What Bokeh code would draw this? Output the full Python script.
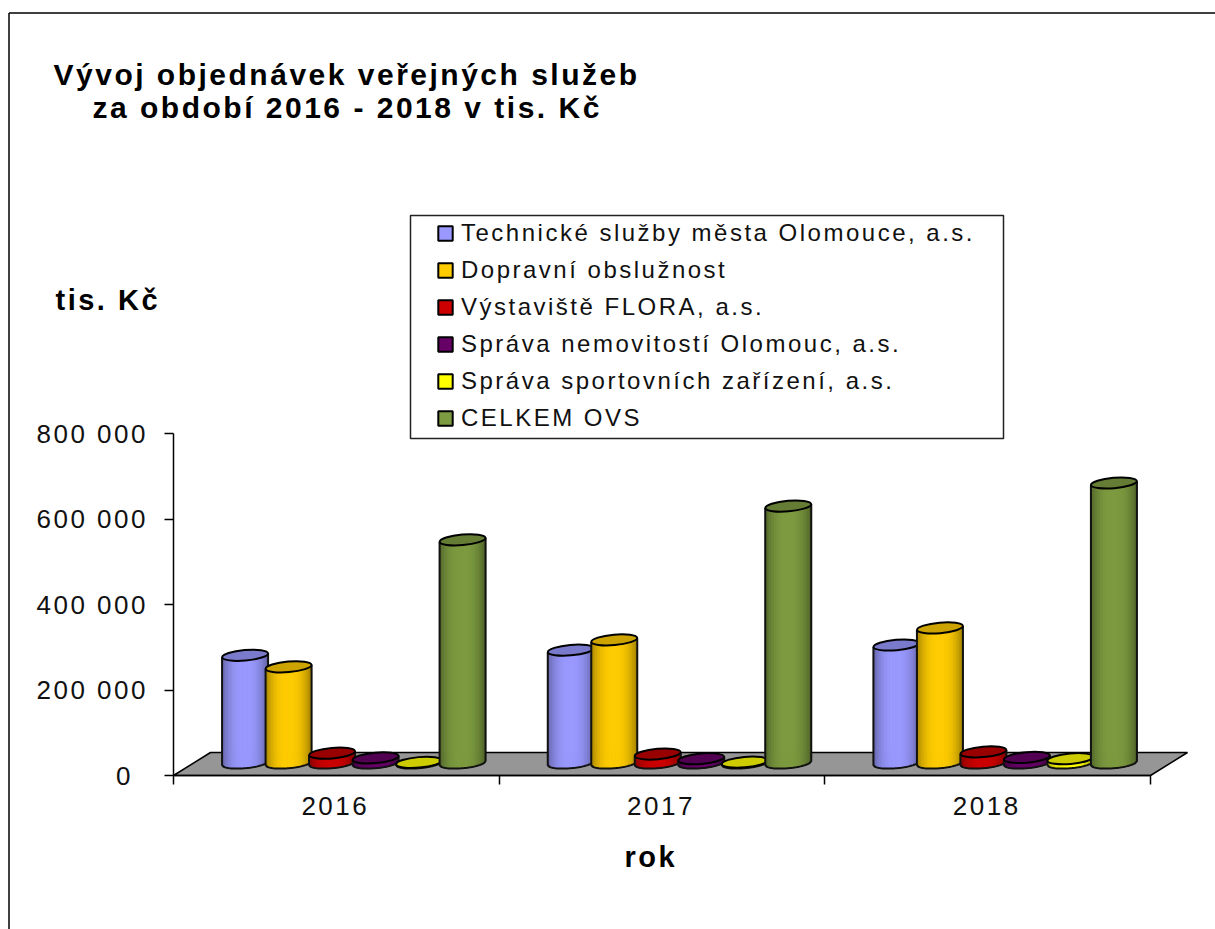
import math
from bokeh.embed import file_html
from bokeh.resources import INLINE
from bokeh.plotting import figure
from bokeh.models import (ColumnDataSource, FixedTicker, Label, Legend, LegendItem, Range1d)

years = ["2016", "2017", "2018"]
series = ["Technické služby města Olomouce, a.s.", "Dopravní obslužnost", "Výstaviště FLORA, a.s.",
          "Správa nemovitostí Olomouc, a.s.", "Správa sportovních zařízení, a.s.", "CELKEM OVS"]
tech = [252000, 264000, 276000]
doprava = [225000, 288000, 316000]
flora = [23000, 21000, 26000]
snm = [12000, 10000, 13000]
ssz = [1500, 2000, 10000]
celkem = [522000, 601000, 655000]
values = [tech, doprava, flora, snm, ssz, celkem]
body_colors = ["#9999FF", "#FFCC00", "#CC0000", "#660066", "#FFFF00", "#7D9B40"]
top_colors = ["#7A7ACC", "#CCA300", "#990000", "#520052", "#CCCC00", "#647C33"]
y_ticks = [0, 200000, 400000, 600000, 800000]
y_labels = ["0", "200 000", "400 000", "600 000", "800 000"]

W, H = 1215, 929
FL, FT, FB = 173, 433, 775              # plot area edges in window pixels
CAT = 325.67                            # pixels per category
XU = 1 / CAT
YU = 800000 / (FB - FT)
BW, EH = 46, 10.5
DX, DY = 37, 23
TILT = 2.0


def X(px):
    return (px - FL) * XU


def Y(py):
    return (FB - py) * YU


def shade(color, f):
    r, g, b = [int(color[i:i + 2], 16) for i in (1, 3, 5)]
    return "#%02x%02x%02x" % (int(r * f), int(g * f), int(b * f))


p = figure(width=W, height=H, output_backend="svg", toolbar_location=None,
           x_range=Range1d(X(0), X(W)), y_range=Range1d(Y(H), Y(0)),
           min_border_left=0, min_border_right=0, min_border_top=0, min_border_bottom=0)
p.grid.visible = False
p.outline_line_color = None
p.styles = {"letter-spacing": "2.5px"}

FONT = "Liberation Sans"
TICK_SIZE = "26px"
LEGEND_SIZE = "24px"
xa, ya = p.xaxis[0], p.yaxis[0]
xa.fixed_location = 0
ya.fixed_location = 0
label_shift = 6 * XU
x_ticks = [i + 0.5 - label_shift for i in range(len(years))]
xa.ticker = FixedTicker(ticks=x_ticks, minor_ticks=[0, 1, 2, 3])
xa.major_label_overrides = dict(zip(x_ticks, years))
xa.bounds = (0, 3)
xa.major_tick_out = 0
xa.major_tick_in = 0
xa.minor_tick_out = 9
xa.minor_tick_in = 0
xa.minor_tick_line_color = "#000000"
xa.minor_tick_line_width = 1.5
xa.axis_line_width = 1.5
xa.axis_line_color = "#000000"
xa.major_label_text_font = FONT
xa.major_label_text_font_size = TICK_SIZE
xa.major_label_text_color = "#111111"
xa.major_label_standoff = 12
ya.ticker = FixedTicker(ticks=y_ticks)
ya.major_label_overrides = dict(zip(y_ticks, y_labels))
ya.bounds = (0, 800000)
ya.major_tick_out = 9
ya.major_tick_in = 0
ya.minor_tick_out = 0
ya.minor_tick_in = 0
ya.major_tick_line_color = "#000000"
ya.major_tick_line_width = 1.5
ya.axis_line_width = 1.5
ya.axis_line_color = "#000000"
ya.major_label_text_font = FONT
ya.major_label_text_font_size = TICK_SIZE
ya.major_label_text_color = "#111111"
ya.major_label_standoff = 34

# page frame and legend box
p.line([X(8.5), X(8.5)], [Y(H), Y(12.5)], line_color="#000000", line_width=1.5)
p.line([X(8.5), X(W)], [Y(12.5), Y(12.5)], line_color="#000000", line_width=1.5)
p.patch([X(410), X(1003), X(1003), X(410)], [Y(215), Y(215), Y(438), Y(438)],
        fill_color="#ffffff", line_color="#222222", line_width=1.5)

# floor
fw = 3.0
p.patch([0, fw, fw + DX * XU, DX * XU], [0, 0, DY * YU, DY * YU],
        fill_color="#969696", line_color="#000000", line_width=1.5)

# cylinders
N = 30
for si, vals in enumerate(values):
    s = dict(left=[], right=[], top=[], bottom=[], color=[])
    cx, cy = [], []
    ol_x, ol_y = [], []
    for yi, v in enumerate(vals):
        c = yi + 0.5 + (17.5 + (si - 2.5) * 43.5) * XU
        base = 12.5 * YU
        yt = base + v
        for k in range(N):
            t0 = -1 + 2 * k / N
            t1 = t0 + 2 / N
            t = (t0 + t1) / 2
            f = 1 - 0.36 * abs(t) ** 2.5
            tilt = TILT * t * YU
            s["left"].append(c + t0 * BW / 2 * XU)
            s["right"].append(c + t1 * BW / 2 * XU)
            s["top"].append(yt + tilt)
            s["bottom"].append(base + tilt - (EH / 2) * YU * math.sqrt(max(1 - t * t, 0)))
            s["color"].append(shade(body_colors[si], f))
        xs, ys = [c - BW / 2 * XU], [yt - TILT * YU]
        for k in range(N + 1):
            t = -1 + 2 * k / N
            xs.append(c + t * BW / 2 * XU)
            ys.append(base + TILT * t * YU - (EH / 2) * YU * math.sqrt(max(1 - t * t, 0)))
        xs.append(c + BW / 2 * XU)
        ys.append(yt + TILT * YU)
        ol_x.append(xs)
        ol_y.append(ys)
        cx.append(c)
        cy.append(yt)
    p.quad(left="left", right="right", top="top", bottom="bottom", source=ColumnDataSource(s),
           fill_color="color", line_color="color", line_width=1)
    p.multi_line(ol_x, ol_y, line_color="#111111", line_width=2)
    p.ellipse(cx, cy, width=BW, height=EH, width_units="screen", height_units="screen",
              angle=math.atan2(2 * TILT, BW), fill_color=top_colors[si],
              line_color="#000000", line_width=2)

# legend swatches come from one-point renderers that lie outside the visible range
items = []
for name, col in zip(series, body_colors):
    r = p.quad(left=[-9], right=[-9], top=[0], bottom=[0], fill_color=col, line_color="#000000", line_width=2)
    items.append(LegendItem(label=name, renderers=[r]))

leg = Legend(items=items, location=(436, H - 432), padding=0, margin=0, spacing=9,
             glyph_width=18, glyph_height=18, label_height=20, label_standoff=7,
             label_text_font=FONT, label_text_font_size=LEGEND_SIZE, label_text_color="#111111",
             background_fill_alpha=0, border_line_alpha=0)
p.add_layout(leg)


def text(t, x, y, size):
    p.add_layout(Label(x=X(x), y=Y(y), text=t, text_font=FONT,
                       text_font_size=size, text_font_style="bold", text_align="left",
                       text_baseline="middle", text_color="#000000"))


text("Vývoj objednávek veřejných služeb", 53, 74, "30px")
text("za období 2016 - 2018  v tis. Kč", 92, 107, "30px")
text("tis. Kč", 55, 299, "29px")
text("rok", 624, 856, "29px")

open("out.html", "w").write(file_html(p, INLINE))
